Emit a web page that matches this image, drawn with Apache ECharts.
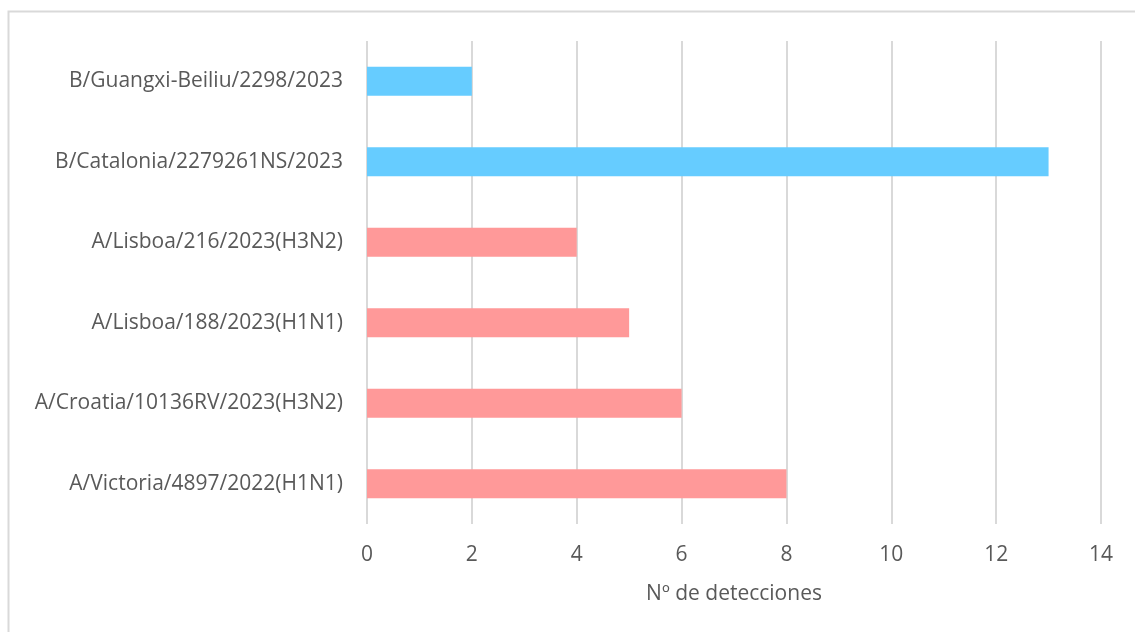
<!DOCTYPE html>
<html>
<head>
<meta charset="utf-8">
<script src="https://cdn.jsdelivr.net/npm/echarts@6/dist/echarts.min.js"></script>
<style>
  html, body { margin: 0; padding: 0; background: #ffffff; }
  #chart { width: 1135px; height: 632px; }
</style>
</head>
<body>
<div id="chart"></div>
<script>
// Strains, listed bottom to top as the category axis draws them
const strains = [
  'A/Victoria/4897/2022(H1N1)',
  'A/Croatia/10136RV/2023(H3N2)',
  'A/Lisboa/188/2023(H1N1)',
  'A/Lisboa/216/2023(H3N2)',
  'B/Catalonia/2279261NS/2023',
  'B/Guangxi-Beiliu/2298/2023'
];
const detections = [8, 6, 5, 4, 13, 2];
const xTicks = [0, 2, 4, 6, 8, 10, 12, 14];
const axisTitle = 'Nº de detecciones';

const colorA = '#FF9999';
const colorB = '#66CCFF';
const textColor = '#595959';
const gridColor = '#D9D9D9';
const font = '"Open Sans", "Liberation Sans", sans-serif';

const chart = echarts.init(document.getElementById('chart'));
chart.setOption({
  animation: false,
  backgroundColor: '#ffffff',
  graphic: [{
    type: 'rect',
    shape: { x: 8.5, y: 11.5, width: 1200, height: 700 },
    style: { fill: 'none', stroke: gridColor, lineWidth: 2 },
    silent: true
  }],
  grid: { left: 367, right: 34, top: 41, bottom: 108, containLabel: false },
  xAxis: {
    type: 'value',
    min: xTicks[0],
    max: xTicks[xTicks.length - 1],
    interval: 2,
    name: axisTitle,
    nameLocation: 'middle',
    nameGap: 60,
    nameTextStyle: { color: textColor, fontFamily: font, fontSize: 21 },
    axisLine: { show: false },
    axisTick: { show: false },
    axisLabel: { color: textColor, fontFamily: font, fontSize: 21, margin: 21 },
    splitLine: { show: true, lineStyle: { color: gridColor, width: 2 } }
  },
  yAxis: {
    type: 'category',
    data: strains,
    axisLine: { show: false },
    axisTick: { show: false },
    axisLabel: { color: textColor, fontFamily: font, fontSize: 21, margin: 24 },
    splitLine: { show: false }
  },
  series: [{
    type: 'bar',
    data: detections.map((v, i) => ({
      value: v,
      itemStyle: { color: strains[i].startsWith('B/') ? colorB : colorA }
    })),
    barWidth: '36%'
  }]
});
</script>
</body>
</html>
